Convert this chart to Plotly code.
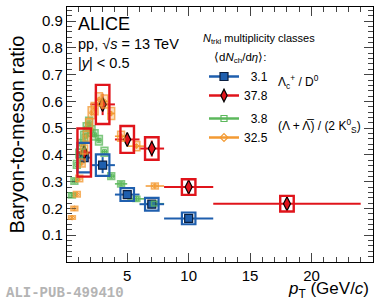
import plotly.graph_objects as go

# ---------------- data ----------------
# Lambda_c+/D0, <dNch/deta> = 3.1 (blue) and 37.8 (red)
lc_x_lo = [1.5, 3.0, 5.0, 7.0, 10.0]
lc_xerr_lo = [0.5, 1.0, 1.0, 1.0, 2.0]
lc_y_lo = [0.390, 0.362, 0.252, 0.216, 0.163]
lc_stat_lo = [0.020, 0.030, 0.015, 0.015, 0.015]
lc_syst_lo = [0.055, 0.040, 0.024, 0.024, 0.022]

lc_x_hi = [1.5, 3.0, 5.0, 7.0, 10.0, 18.0]
lc_xerr_hi = [0.5, 1.0, 1.0, 1.0, 2.0, 6.0]
lc_y_hi = [0.409, 0.589, 0.458, 0.424, 0.280, 0.218]
lc_stat_hi = [0.030, 0.040, 0.025, 0.030, 0.030, 0.030]
lc_syst_hi = [0.090, 0.073, 0.050, 0.042, 0.029, 0.029]

# (Lambda + anti-Lambda)/(2 K0S), <dNch/deta> = 3.8 (green) and 32.5 (orange)
v0_x = [0.5, 0.7, 0.9, 1.1, 1.3, 1.5, 1.7, 1.9, 2.1, 2.35, 2.7, 3.15, 3.7, 4.5, 5.75, 7.25]
v0_xerr = [0.1, 0.1, 0.1, 0.1, 0.1, 0.1, 0.1, 0.1, 0.1, 0.15, 0.2, 0.25, 0.3, 0.5, 0.75, 0.75]
v0_y_lo = [0.249, 0.303, 0.365, 0.405, 0.440, 0.470, 0.500, 0.520, 0.490, 0.475,
           0.455, 0.412, 0.321, 0.292, 0.236, 0.218]
v0_y_hi = [0.166, 0.200, 0.253, 0.312, 0.370, 0.420, 0.470, 0.515, 0.558, 0.573,
           0.608, 0.600, 0.555, 0.470, 0.433, 0.284]
v0_syst_frac = 0.04

legend_labels = ["\u20073.1", "37.8", "\u20073.8", "32.5"]

BLUE = "#1f5fae"
RED = "#e0141b"
GREEN = "#5cb85c"
ORANGE = "#f39a33"

fig = go.Figure()

def add_boxes(xs, ys, systs, halfw, line_color, fill_color, lw):
    for x, y, s in zip(xs, ys, systs):
        fig.add_shape(type="rect", xref="x", yref="y",
                      x0=x - halfw, x1=x + halfw, y0=y - s, y1=y + s,
                      line=dict(color=line_color, width=lw),
                      fillcolor=fill_color, layer="above")

# strange-particle systematic boxes (drawn first)
add_boxes(v0_x, v0_y_lo, [v * v0_syst_frac for v in v0_y_lo], 0.28,
          "rgba(92,184,92,0.75)", "rgba(92,184,92,0.30)", 1.5)
add_boxes(v0_x, v0_y_hi, [v * v0_syst_frac for v in v0_y_hi], 0.28,
          "rgba(243,154,51,0.75)", "rgba(243,154,51,0.30)", 1.5)

# strange-particle points
fig.add_trace(go.Scatter(
    x=v0_x, y=v0_y_lo, mode="markers", showlegend=False,
    marker=dict(symbol="square-open", size=4, color=GREEN, line=dict(width=1)),
    error_x=dict(type="data", array=v0_xerr, color=GREEN, thickness=1.5, width=0),
    error_y=dict(type="data", array=[0.008] * len(v0_x), color=GREEN, thickness=1.5, width=0)))
fig.add_trace(go.Scatter(
    x=v0_x, y=v0_y_hi, mode="markers", showlegend=False,
    marker=dict(symbol="diamond-open", size=4, color=ORANGE, line=dict(width=1)),
    error_x=dict(type="data", array=v0_xerr, color=ORANGE, thickness=1.5, width=0),
    error_y=dict(type="data", array=[0.008] * len(v0_x), color=ORANGE, thickness=1.5, width=0)))

# Lambda_c systematic boxes
add_boxes(lc_x_lo, lc_y_lo, lc_syst_lo, 0.55, BLUE, "rgba(0,0,0,0)", 2.2)
add_boxes(lc_x_hi, lc_y_hi, lc_syst_hi, 0.55, RED, "rgba(0,0,0,0)", 2.4)

fig.add_trace(go.Scatter(
    x=lc_x_lo, y=lc_y_lo, mode="markers", showlegend=False,
    marker=dict(symbol="square", size=8, color=BLUE, line=dict(color="#0a1f40", width=1.2)),
    error_x=dict(type="data", array=lc_xerr_lo, color=BLUE, thickness=2, width=0),
    error_y=dict(type="data", array=lc_stat_lo, color=BLUE, thickness=2, width=0)))
fig.add_trace(go.Scatter(
    x=lc_x_hi, y=lc_y_hi, mode="markers", showlegend=False,
    marker=dict(symbol="diamond-tall", size=10, color=RED, line=dict(color="black", width=1.2)),
    error_x=dict(type="data", array=lc_xerr_hi, color=RED, thickness=2, width=0),
    error_y=dict(type="data", array=lc_stat_hi, color=RED, thickness=2, width=0)))

# legend entries
leg_specs = [
    (legend_labels[0], BLUE, dict(symbol="square", size=8, color=BLUE, line=dict(color="#0a1f40", width=1.2)), "lc"),
    (legend_labels[1], RED, dict(symbol="diamond-tall", size=9, color=RED, line=dict(color="black", width=1.2)), "lc"),
    (legend_labels[2], GREEN, dict(symbol="square-open", size=6, color=GREEN, line=dict(width=1.2)), "v0"),
    (legend_labels[3], ORANGE, dict(symbol="diamond-open", size=6, color=ORANGE, line=dict(width=1.2)), "v0"),
]
for name, col, mk, grp in leg_specs:
    fig.add_trace(go.Scatter(x=[None], y=[None], mode="lines+markers", name=name,
                             legendgroup=grp, line=dict(color=col, width=2.5), marker=mk))

# ---------------- texts ----------------
ann = []
def txt(x, y, s, size, xanchor="left", color="black", family="Liberation Sans"):
    ann.append(dict(xref="paper", yref="paper", x=x, y=y, text=s, showarrow=False,
                    xanchor=xanchor, yanchor="middle", font=dict(size=size, color=color, family=family)))

W0, W1, H0, H1 = 67, 373, 262, 7
def px(xp):
    return (xp - W0) / (W1 - W0)
def py(yp):
    return (H0 - yp) / (H0 - H1)

txt(px(76), py(24), "ALICE", 18)
txt(px(76), py(44), "pp, \u221a<i>s</i> = 13 TeV", 14.5)
txt(px(76), py(63), "|<i>y</i>| &lt; 0.5", 14.5)
txt(px(201), py(39), "<i>N</i><sub>trkl</sub> multiplicity classes", 11)
txt(px(212), py(58), "\u27e8d<i>N</i><sub>ch</sub>/d<i>\u03b7</i>\u27e9:", 11.5)
txt(px(276), py(82), "\u039b<sub>c</sub><sup>+</sup> / D<sup>0</sup>", 12)
txt(px(276), py(126), "(\u039b + \u039b\u0305) / (2 K<sup>0</sup><sub>S</sub>)", 12)
txt(px(371), py(290), "<i>p</i><sub>T</sub> (GeV/<i>c</i>)", 17, xanchor="right")
txt(px(4), py(293), "<b>ALI-PUB-499410</b>", 14, color="#b4b4b4", family="Liberation Mono")

fig.update_layout(
    width=374, height=302,
    margin=dict(l=67, r=1, t=7, b=40, autoexpand=False),
    paper_bgcolor="white", plot_bgcolor="white",
    font=dict(family="Liberation Sans", color="black", size=15),
    showlegend=True,
    legend=dict(x=px(204), y=py(62), xanchor="left", yanchor="top",
                bgcolor="rgba(0,0,0,0)", font=dict(size=12, family="Liberation Sans"),
                itemwidth=30, tracegroupgap=4, traceorder="grouped"),
    annotations=ann,
)

fig.update_xaxes(range=[0.1, 25], tickvals=[5, 10, 15, 20], ticks="inside", ticklen=9,
                 tickwidth=1.3, mirror="allticks", showline=True, linecolor="black", linewidth=1.3,
                 showgrid=False, zeroline=False, tickfont=dict(size=15), automargin=False,
                 minor=dict(dtick=1, tick0=0, ticks="inside", ticklen=5, tickwidth=1.1, showgrid=False))
fig.update_yaxes(range=[0, 0.953], tickvals=[0.1, 0.2, 0.3, 0.4, 0.5, 0.6, 0.7, 0.8, 0.9],
                 ticks="inside", ticklen=9, tickwidth=1.3, mirror="allticks", showline=True,
                 linecolor="black", linewidth=1.3, showgrid=False, zeroline=False,
                 tickfont=dict(size=15), automargin=False,
                 title=dict(text="Baryon-to-meson ratio", font=dict(size=20), standoff=11),
                 minor=dict(dtick=0.02, tick0=0, ticks="inside", ticklen=5, tickwidth=1.1, showgrid=False))

fig.write_html("out.html", config={"displayModeBar": False},
               post_script="document.body.style.margin='0';document.body.style.overflow='hidden';")
